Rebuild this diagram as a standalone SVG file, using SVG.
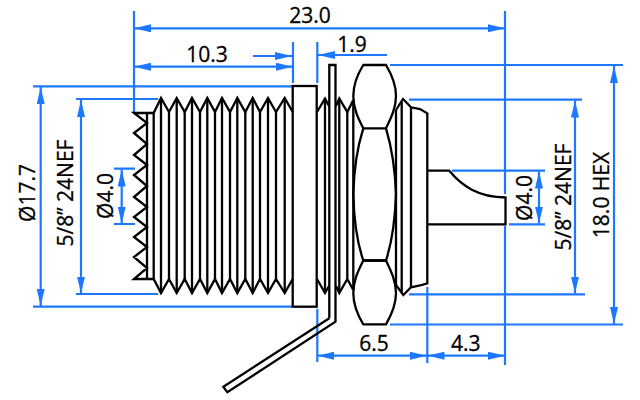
<svg xmlns="http://www.w3.org/2000/svg" width="640" height="400" viewBox="0 0 640 400">
<style>
.k{fill:none;stroke:#000;stroke-width:2.300;stroke-linejoin:miter}
.e{fill:none;stroke:#1e78ff;stroke-width:2.200}
.d{fill:none;stroke:#1e78ff;stroke-width:2.200;marker-start:url(#a);marker-end:url(#a)}
.s{fill:none;stroke:#1e78ff;stroke-width:2.200;marker-end:url(#a)}
text{font-family:"Open Sans","Liberation Sans",sans-serif;font-size:21px;fill:#000;stroke:#000;stroke-width:.3;text-anchor:middle}
</style>
<defs>
<marker id="a" markerUnits="userSpaceOnUse" markerWidth="17" markerHeight="8" refX="17" refY="4" orient="auto-start-reverse">
<path d="M0 0L17 4L0 8Z" fill="#1e78ff"/>
</marker>
</defs>
<rect width="640" height="400" fill="#fff"/>
<g id="connectors">
<path class="e" d="M134 11V113M505 11V194M505 226V365M293 42V83M317.300 42V83M317.300 309V362M427.300 287V363"/>
<path class="e" d="M33 86.300H292M33 306.700H292M76 99H158M76 294H158M114 168.700H135M114 224H135"/>
<path class="e" d="M390 65H623M409 99.700H582M452 170.700H545M509 224.300H545M409 294.300H585M390 324.500H623"/>
<path class="d" d="M134 28.300H505"/>
<path class="d" d="M134 66.700H292.700"/>
<path class="s" d="M253 56H292"/>
<path class="s" d="M387 55H318"/>
<path class="d" d="M317.300 355.700H427"/>
<path class="d" d="M427.500 355.700H505"/>
<path class="d" d="M40.700 87V306"/>
<path class="d" d="M81 100V293.500"/>
<path class="d" d="M121.700 169.500V223.500"/>
<path class="d" d="M614 66V324"/>
<path class="d" d="M575 100.500V293.500"/>
<path class="d" d="M539 171.500V223.500"/>
</g>
<g id="body-thread">
<path class="k" d="M153.700 113H134L147 123L134 133L147 144L134 155L147 165L134 175L147 186L134 197L147 207L134 217L147 227L134 237L147 247L134 257L147 268L134 279H153.700"/>
<path class="k" d="M147 113V279M153.700 113V279"/>
<path class="k" d="M153.700 113L161 98L169 112L176.700 98L184.700 112L192 98L200 112L207.300 98L215 112L222 98L230 112L237.300 98L245.300 112L252.700 98L260 112L268 98L276 112L284.700 98L292.700 112"/>
<path class="k" d="M153.700 279L161 293L169 279L176.700 293L184.700 279L192 293L200 279L207.300 293L215 279L222 293L230 279L237.300 293L245.300 279L252.700 293L260 279L268 293L276 279L284.700 293L292.700 279"/>
<path class="k" d="M161 98V293M169 112V279M176.700 98V293M184.700 112V279M192 98V293M200 112V279M207.300 98V293M215 112V279M222 98V293M230 112V279M237.300 98V293M245.300 112V279M252.700 98V293M260 112V279M268 98V293M276 112V279M284.700 98V293"/>
</g>
<g id="flange"><rect class="k" x="292.700" y="86" width="24" height="220.700"/></g>
<g id="rear-thread">
<path class="k" d="M317 112L325 98.500L329 106M336 106L339.300 98.500L347.300 112L353.300 100"/>
<path class="k" d="M317 279L325 293L329 286M336 286L339.300 293L347.300 279L353.300 290"/>
<path class="k" d="M325 98.500V293M339.300 98.500V293M347.300 112V279M353.300 100V290"/>
</g>
<g id="solder-tab">
<path class="k" d="M329.300 318.300V65H335.500V321.700L227.300 392.300L223.300 386.700L329.300 318.300"/>
</g>
<g id="hex-nut">
<path class="k" d="M363.300 65C357 75 353.300 85 353.300 96C353.300 108 358 118 363.300 128.300H386C391 118 396 108 396 96C396 85 392 75 386 65Z"/>
<path class="k" d="M363.300 128.300C358 145 354 165 353.300 194C354 225 358 245 363.300 260.500H386C391 245 395 225 396 194C395 165 391 145 386 128.300"/>
<path class="k" d="M363.300 324.300C357 314 353.300 304 353.300 293C353.300 281 358 271 363.300 260.500H386C391 271 396 281 396 293C396 304 392 314 386 324.300Z"/>
</g>
<g id="rear-body">
<path class="k" d="M396 110L403 99L411 107.300L420 109L427.300 113.300V283.300L420 285.500L411 287.300L403.300 295L396 285"/>
<path class="k" d="M396 110V285M401.700 102V292M411 107.300V287.300"/>
</g>
<g id="pin">
<path class="k" d="M427.300 170.700H449.300C462 186 478 197 505.500 197.500V224.300H427.300"/>
</g>
<g id="labels">
<text x="310" y="22.700">23.0</text>
<text x="207" y="62.300">10.3</text>
<text x="352" y="52">1.9</text>
<text x="374" y="351">6.5</text>
<text x="465.700" y="351">4.3</text>
<text transform="translate(35 193) rotate(-90)">Ø17.7</text>
<text transform="translate(73 193) rotate(-90)">5/8” 24NEF</text>
<text transform="translate(113 196) rotate(-90)">Ø4.0</text>
<text transform="translate(532 198) rotate(-90)">Ø4.0</text>
<text transform="translate(571 197) rotate(-90)">5/8” 24NEF</text>
<text transform="translate(609 195) rotate(-90)">18.0 HEX</text>
</g>
</svg>
